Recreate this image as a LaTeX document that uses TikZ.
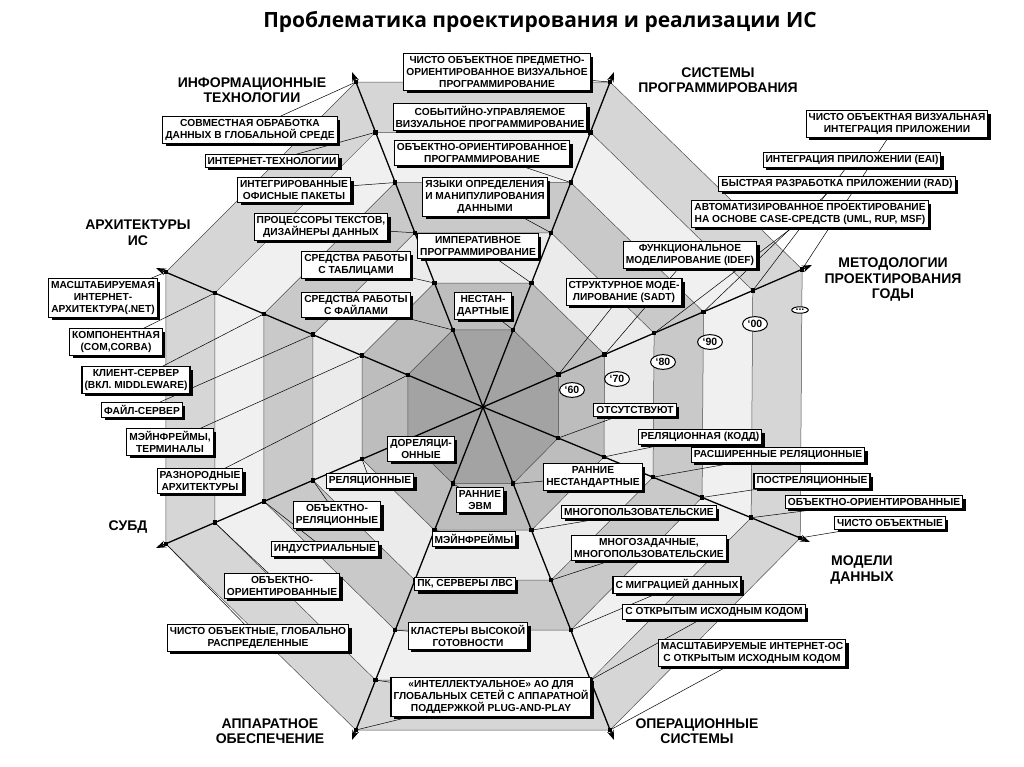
\documentclass[tikz,border=0pt]{standalone}
\usepackage{fontspec}
\setmainfont{Liberation Sans}
\newfontfamily\titlefont{Open Sans}
\usetikzlibrary{calc,shadows,arrows.meta,shapes.geometric}
\pgfdeclarelayer{bg}
\pgfdeclarelayer{mid}
\pgfsetlayers{bg,mid,main}
\begin{document}
\begin{tikzpicture}[x=1pt,y=-1pt,
 bx/.style={draw,line width=1.1pt,fill=white,inner sep=2.5pt,align=center,
   font=\bfseries\fontsize{10.2}{12.2}\selectfont,
   drop shadow={shadow xshift=3pt,shadow yshift=-3pt,fill=black,opacity=1}},
 ax/.style={font=\bfseries\fontsize{14}{15.5}\selectfont,align=center},
 sp/.style={line width=1.3pt,-{Stealth[length=10pt,width=7pt]}},
 cn/.style={line width=0.5pt},
 sq/.style={fill=black,inner sep=0pt,minimum size=4.5pt},
 yr/.style={draw,ellipse,line width=1pt,fill=white,inner sep=1.5pt,font=\bfseries\fontsize{10.5}{11}\selectfont}]
\useasboundingbox (0,0) rectangle (1024,767);
\coordinate (C) at (483,407);
\coordinate (E1) at (352,72);
\coordinate (E2) at (614,72);
\coordinate (E3) at (812,265);
\coordinate (E4) at (810,542);
\coordinate (E5) at (614,740);
\coordinate (E6) at (352,740);
\coordinate (E7) at (156,548);
\coordinate (E8) at (156,268);
\begin{pgfonlayer}{bg}
\foreach \t/\c in {0.97/gray!32,0.82/gray!12,0.67/gray!42,0.52/gray!16,0.37/gray!52,0.23/gray!72}{
 \draw[gray!60!black,line width=0.5pt,fill=\c] ($(C)!\t!(E1)$)--($(C)!\t!(E2)$)--($(C)!\t!(E3)$)--($(C)!\t!(E4)$)--($(C)!\t!(E5)$)--($(C)!\t!(E6)$)--($(C)!\t!(E7)$)--($(C)!\t!(E8)$)--cycle;}
\foreach \k in {1,...,8}{\draw[sp] (C) -- (E\k);}
\end{pgfonlayer}
\node[font=\titlefont\bfseries\fontsize{21}{24}\selectfont] (title) at (540,22) {Проблематика проектирования и реализации ИС};
% axis labels
\node[ax] (a1) at (252,90) {ИНФОРМАЦИОННЫЕ\\ТЕХНОЛОГИИ};
\node[ax] (a2) at (718,80) {СИСТЕМЫ\\ПРОГРАММИРОВАНИЯ};
\node[ax] (a3) at (893,280) {МЕТОДОЛОГИИ\\ПРОЕКТИРОВАНИЯ\\ГОДЫ};
\node[ax] (a4) at (862,570) {МОДЕЛИ\\ДАННЫХ};
\node[ax] (a5) at (697,731) {ОПЕРАЦИОННЫЕ\\СИСТЕМЫ};
\node[ax] (a6) at (270,731) {АППАРАТНОЕ\\ОБЕСПЕЧЕНИЕ};
\node[ax] (a7) at (128,527) {СУБД};
\node[ax] (a8) at (138,233) {АРХИТЕКТУРЫ\\ИС};
% boxes
\node[bx] (b1) at (497,72) {ЧИСТО ОБЪЕКТНОЕ ПРЕДМЕТНО-\\ОРИЕНТИРОВАННОЕ ВИЗУАЛЬНОЕ\\ПРОГРАММИРОВАНИЕ};
\node[bx] (b2) at (490,117) {СОБЫТИЙНО-УПРАВЛЯЕМОЕ\\ВИЗУАЛЬНОЕ ПРОГРАММИРОВАНИЕ};
\node[bx] (b3) at (482,153) {ОБЪЕКТНО-ОРИЕНТИРОВАННОЕ\\ПРОГРАММИРОВАНИЕ};
\node[bx] (b4) at (485,197) {ЯЗЫКИ ОПРЕДЕЛЕНИЯ\\И МАНИПУЛИРОВАНИЯ\\ДАННЫМИ};
\node[bx] (b5) at (478,246) {ИМПЕРАТИВНОЕ\\ПРОГРАММИРОВАНИЕ};
\node[bx] (b6) at (483,306) {НЕСТАН-\\ДАРТНЫЕ};
\node[bx] (b7) at (250,130) {СОВМЕСТНАЯ ОБРАБОТКА\\ДАННЫХ В ГЛОБАЛЬНОЙ СРЕДЕ};
\node[bx] (b8) at (272,161) {ИНТЕРНЕТ-ТЕХНОЛОГИИ};
\node[bx] (b9) at (294,190) {ИНТЕГРИРОВАННЫЕ\\ОФИСНЫЕ ПАКЕТЫ};
\node[bx] (b10) at (321,227) {ПРОЦЕССОРЫ ТЕКСТОВ,\\ДИЗАЙНЕРЫ ДАННЫХ};
\node[bx] (b11) at (356,265) {СРЕДСТВА РАБОТЫ\\С ТАБЛИЦАМИ};
\node[bx] (b12) at (356,305) {СРЕДСТВА РАБОТЫ\\С ФАЙЛАМИ};
\node[bx] (b13) at (897,124) {ЧИСТО ОБЪЕКТНАЯ ВИЗУАЛЬНАЯ\\ИНТЕГРАЦИЯ ПРИЛОЖЕНИИ};
\node[bx] (b14) at (852,160) {ИНТЕГРАЦИЯ ПРИЛОЖЕНИИ (EAI)};
\node[bx] (b15) at (837,184) {БЫСТРАЯ РАЗРАБОТКА ПРИЛОЖЕНИИ (RAD)};
\node[bx] (b16) at (810,214) {АВТОМАТИЗИРОВАННОЕ ПРОЕКТИРОВАНИЕ\\НА ОСНОВЕ CASE-СРЕДСТВ (UML, RUP, MSF)};
\node[bx] (b17) at (690,255) {ФУНКЦИОНАЛЬНОЕ\\МОДЕЛИРОВАНИЕ (IDEF)};
\node[bx] (b18) at (624,292) {СТРУКТУРНОЕ МОДЕ-\\ЛИРОВАНИЕ (SADT)};
\node[bx] (b19) at (103,298) {МАСШТАБИРУЕМАЯ\\ИНТЕРНЕТ-\\АРХИТЕКТУРА(.NET)};
\node[bx] (b20) at (116,342) {КОМПОНЕНТНАЯ\\(COM,CORBA)};
\node[bx] (b21) at (136,380) {КЛИЕНТ-СЕРВЕР\\(ВКЛ. MIDDLEWARE)};
\node[bx] (b22) at (142,410) {ФАЙЛ-СЕРВЕР};
\node[bx] (b23) at (170,442) {МЭЙНФРЕЙМЫ,\\ТЕРМИНАЛЫ};
\node[bx] (b24) at (200,481) {РАЗНОРОДНЫЕ\\АРХИТЕКТУРЫ};
\node[bx] (b25) at (421,449) {ДОРЕЛЯЦИ-\\ОННЫЕ};
\node[bx] (b26) at (370,481) {РЕЛЯЦИОННЫЕ};
\node[bx] (b27) at (337,515) {ОБЪЕКТНО-\\РЕЛЯЦИОННЫЕ};
\node[bx] (b28) at (325,549) {ИНДУСТРИАЛЬНЫЕ};
\node[bx] (b29) at (282,586) {ОБЪЕКТНО-\\ОРИЕНТИРОВАННЫЕ};
\node[bx] (b30) at (258,638) {ЧИСТО ОБЪЕКТНЫЕ, ГЛОБАЛЬНО\\РАСПРЕДЕЛЕННЫЕ};
\node[bx] (b31) at (480,500) {РАННИЕ\\ЭВМ};
\node[bx] (b32) at (474,539) {МЭЙНФРЕЙМЫ};
\node[bx] (b33) at (465,584) {ПК, СЕРВЕРЫ ЛВС};
\node[bx] (b34) at (468,636) {КЛАСТЕРЫ ВЫСОКОЙ\\ГОТОВНОСТИ};
\node[bx] (b35) at (491,697) {«ИНТЕЛЛЕКТУАЛЬНОЕ» АО ДЛЯ\\ГЛОБАЛЬНЫХ СЕТЕЙ С АППАРАТНОЙ\\ПОДДЕРЖКОЙ PLUG-AND-PLAY};
\node[bx] (b36) at (593,477) {РАННИЕ\\НЕСТАНДАРТНЫЕ};
\node[bx] (b37) at (639,512) {МНОГОПОЛЬЗОВАТЕЛЬСКИЕ};
\node[bx] (b38) at (649,548) {МНОГОЗАДАЧНЫЕ,\\МНОГОПОЛЬЗОВАТЕЛЬСКИЕ};
\node[bx] (b39) at (677,585) {С МИГРАЦИЕЙ ДАННЫХ};
\node[bx] (b40) at (714,612) {С ОТКРЫТЫМ ИСХОДНЫМ КОДОМ};
\node[bx] (b41) at (752,653) {МАСШТАБИРУЕМЫЕ ИНТЕРНЕТ-ОС\\С ОТКРЫТЫМ ИСХОДНЫМ КОДОМ};
\node[bx] (b42) at (635,410) {ОТСУТСТВУЮТ};
\node[bx] (b43) at (700,437) {РЕЛЯЦИОННАЯ (КОДД)};
\node[bx] (b44) at (778,455) {РАСШИРЕННЫЕ РЕЛЯЦИОННЫЕ};
\node[bx] (b45) at (812,481) {ПОСТРЕЛЯЦИОННЫЕ};
\node[bx] (b46) at (874,502) {ОБЪЕКТНО-ОРИЕНТИРОВАННЫЕ};
\node[bx] (b47) at (890,523) {ЧИСТО ОБЪЕКТНЫЕ};
% years
\node[yr] (y60) at (572,390) {‘60};
\node[yr] (y70) at (617,379) {‘70};
\node[yr] (y80) at (663,362) {‘80};
\node[yr] (y90) at (710,342) {‘90};
\node[yr] (y00) at (755,324) {‘00};
\node[yr] (y10) at (800,310) {...};
% connectors
\begin{pgfonlayer}{mid}
\foreach \s/\a/\b/\c/\d/\e/\f in {E2/b6/b5/b4/b3/b2/b1,E1/b12/b11/b10/b9/b8/b7,E3/b18/b17/b16/b15/b14/b13,E8/b24/b23/b22/b21/b20/b19,E7/b25/b26/b27/b28/b29/b30,E6/b31/b32/b33/b34/b35/b35,E5/b36/b37/b38/b39/b40/b41,E4/b42/b43/b44/b45/b46/b47}{
 \draw[cn] (\a) -- ($(C)!0.23!(\s)$) node[sq]{};
 \draw[cn] (\b) -- ($(C)!0.37!(\s)$) node[sq]{};
 \draw[cn] (\c) -- ($(C)!0.52!(\s)$) node[sq]{};
 \draw[cn] (\d) -- ($(C)!0.67!(\s)$) node[sq]{};
 \draw[cn] (\e) -- ($(C)!0.82!(\s)$) node[sq]{};
 \draw[cn] (\f) -- ($(C)!0.97!(\s)$) node[sq]{};
}
\end{pgfonlayer}
\end{tikzpicture}
\end{document}
